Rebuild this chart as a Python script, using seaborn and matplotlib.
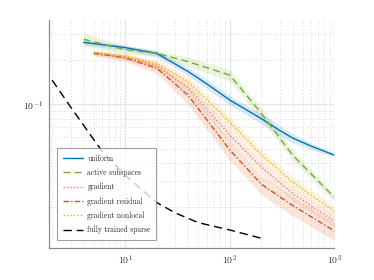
import matplotlib

matplotlib.use("Agg")

import matplotlib.pyplot as plt
import numpy as np
import pandas as pd
import seaborn as sns

# values
x_uniform = [4, 10, 20, 40, 60, 100, 200, 300, 400, 600, 1000]
x_active = [4, 10, 20, 40, 100, 200, 400, 1000]
x_grad = [5, 10, 20, 40, 100, 200, 400, 1000]
x_sparse = [2, 3, 4, 6, 10, 20, 30, 50, 100, 200]

uniform = [0.264, 0.243, 0.222, 0.167, 0.138, 0.107, 0.080, 0.0665, 0.059, 0.052, 0.0452]
active_subspaces = [0.277, 0.235, 0.222, 0.195, 0.158, 0.087, 0.045, 0.0233]
gradient = [0.224, 0.210, 0.182, 0.130, 0.0615, 0.0376, 0.0247, 0.0161]
gradient_residual = [0.222, 0.207, 0.176, 0.115, 0.049, 0.0287, 0.0205, 0.0138]
gradient_nonlocal = [0.226, 0.212, 0.190, 0.143, 0.0755, 0.0455, 0.0295, 0.0187]
fully_trained_sparse = [0.146, 0.096, 0.072, 0.048, 0.033, 0.0215, 0.0183, 0.0157, 0.0140, 0.0123]

# relative half-width of the shaded bands
uniform_spread = [0.04, 0.04, 0.05, 0.06, 0.07, 0.07, 0.08, 0.08, 0.07, 0.05, 0.03]
active_spread = [0.10, 0.06, 0.05, 0.07, 0.09, 0.09, 0.08, 0.05]
gradient_spread = [0.03, 0.04, 0.06, 0.09, 0.10, 0.10, 0.10, 0.09]
residual_spread = [0.04, 0.05, 0.08, 0.13, 0.15, 0.15, 0.15, 0.14]
nonlocal_spread = [0.03, 0.04, 0.05, 0.08, 0.09, 0.09, 0.09, 0.08]

series = [
    ("uniform", x_uniform, uniform, uniform_spread, "#0072BD", None),
    ("active subspaces", x_active, active_subspaces, active_spread, "#77AC30", (5, 3)),
    ("gradient", x_grad, gradient, gradient_spread, "#F0805A", (1, 1.5)),
    ("gradient residual", x_grad, gradient_residual, residual_spread, "#D95319", (4, 1.5, 1, 1.5)),
    ("gradient nonlocal", x_grad, gradient_nonlocal, nonlocal_spread, "#EDB120", (1, 1.5)),
]

sns.set_style("white")
plt.rcParams["font.family"] = ["cmr10", "DejaVu Serif"]
plt.rcParams["mathtext.fontset"] = "cm"
plt.rcParams["axes.formatter.use_mathtext"] = True
plt.rcParams["axes.unicode_minus"] = False

fig = plt.figure(figsize=(3.74, 2.8), dpi=100)
ax = fig.add_axes([0.130, 0.113, 0.764, 0.816])
ax.set_xscale("log")
ax.set_yscale("log")

for label, xs, ys, spread, color, dashes in series:
    df = pd.DataFrame({"x": xs, "y": ys})
    lo = np.array(ys) * (1 - np.array(spread))
    hi = np.array(ys) * (1 + np.array(spread))
    ax.fill_between(xs, lo, hi, color=color, alpha=0.15, lw=0)
    sns.lineplot(data=df, x="x", y="y", ax=ax, color=color, lw=1.0, label=label)
    if dashes is not None:
        ax.lines[-1].set_dashes(dashes)

df_sparse = pd.DataFrame({"x": x_sparse, "y": fully_trained_sparse})
sns.lineplot(data=df_sparse, x="x", y="y", ax=ax, color="black", lw=1.0,
             label="fully trained sparse")
ax.lines[-1].set_dashes((6, 3.5))

ax.set_xlim(1.85, 1000)
ax.set_ylim(0.0105, 0.375)
ax.set_xlabel("")
ax.set_ylabel("")

ax.grid(True, which="major", color="#e6e6e6", lw=1.0, ls="-")
ax.grid(True, which="minor", color="#cccccc", lw=0.6, ls=(0, (1, 2.5)))
ax.set_axisbelow(True)

for side in ["top", "right"]:
    ax.spines[side].set_visible(False)
for side in ["left", "bottom"]:
    ax.spines[side].set_color("#8a8a8a")
    ax.spines[side].set_linewidth(0.9)

ax.tick_params(which="both", direction="in", colors="#8a8a8a", labelcolor="#333333",
               labelsize=7, length=2.5, width=0.6)
ax.tick_params(which="minor", length=1.5)

leg = ax.legend(loc="lower left", bbox_to_anchor=(0.03, 0.036), fontsize=5.5,
                frameon=True, fancybox=False, handlelength=2.6, borderpad=0.75,
                labelspacing=0.78, handletextpad=0.6, borderaxespad=0)
leg.get_frame().set_edgecolor("#888888")
leg.get_frame().set_linewidth(0.8)
leg.set_zorder(10)

fig.savefig("out.png", dpi=100)
